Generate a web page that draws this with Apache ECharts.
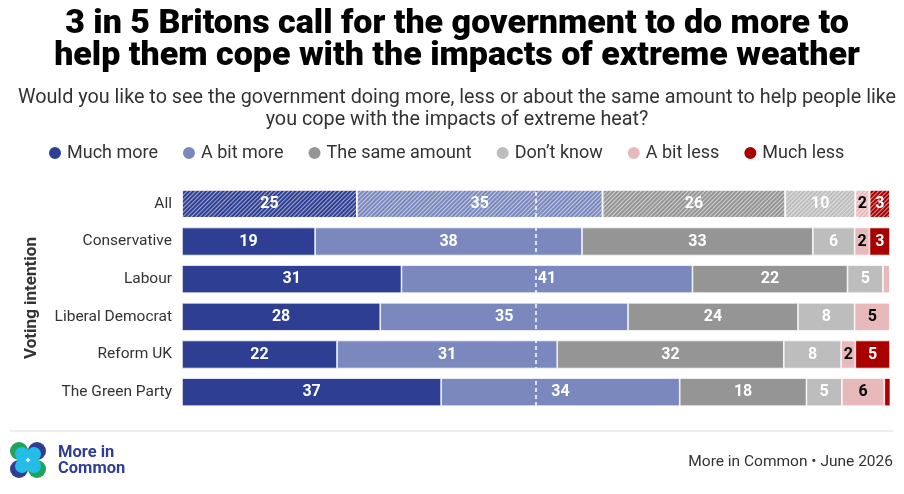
<!DOCTYPE html>
<html><head><meta charset="utf-8">
<script src="https://cdn.jsdelivr.net/npm/echarts@6/dist/echarts.min.js"></script>
<style>html,body{margin:0;padding:0;background:#fff}#c{width:904px;height:494px}</style>
</head><body><div id="c"></div>
<script>
const categories = ['All','Conservative','Labour','Liberal Democrat','Reform UK','The Green Party'];
const seriesNames = ['Much more','A bit more','The same amount','Don\u2019t know','A bit less','Much less'];
const muchMore = [24.7,18.8,31.0,28.0,21.9,36.6];
const bitMore  = [34.7,37.7,41.1,35.0,31.1,33.7];
const sameAmt  = [25.8,32.6,21.9,24.0,32.0,17.9];
const dontKnow = [9.9,5.9,5.0,8.0,8.1,5.0];
const bitLess  = [2.0,2.1,1.0,5.0,2.0,6.0];
const muchLess = [2.9,2.9,0,0,4.9,0.9];
const midLine = 50;
const colors = ['#2e3f93','#7b88bd','#959595','#bdbdbd','#e8b9bb','#a90000'];
const labelColors = ['#fff','#fff','#fff','#fff','#000','#fff'];
const values = [muchMore,bitMore,sameAmt,dontKnow,bitLess,muchLess];
const FONT = 'Roboto, "Noto Sans", sans-serif';

const hatch = {
  symbol:'rect', symbolSize:1, dashArrayX:[[1,0]], dashArrayY:[1,2],
  rotation:-Math.PI/4, color:'rgba(255,255,255,0.55)'
};

const series = values.map((arr,i)=>({
  name: seriesNames[i], type:'bar', stack:'t', barWidth:28,
  itemStyle:{color:colors[i], borderColor:'#fff', borderWidth:0.7},
  label:{show:true, position:'inside', color:labelColors[i], fontFamily:FONT,
    fontWeight:'bold', fontSize:16,
    formatter:p=>{const v=Math.round(p.value);return v>=2?String(v):'';}},
  data: arr.map((v,j)=> j===0 ? {value:v, itemStyle:{decal:hatch}} : v),
  emphasis:{disabled:true}
}));
series[5].markLine = {
  silent:true, symbol:'none', z:10, label:{show:false},
  lineStyle:{color:'#fff', type:[4,3], width:1.5},
  data:[{xAxis:midLine}]
};

const chart = echarts.init(document.getElementById('c'));
chart.setOption({
  animation:false,
  textStyle:{fontFamily:FONT},
  title:[{
    text:'3 in 5 Britons call for the government to do more to\nhelp them cope with the impacts of extreme weather',
    left:452, top:3, textAlign:'center',
    textStyle:{fontFamily:FONT, fontWeight:900, fontSize:34, lineHeight:32, color:'#000'}
  },{
    text:'Would you like to see the government doing more, less or about the same amount to help people like\nyou cope with the impacts of extreme heat?',
    left:452, top:82, textAlign:'center',
    textStyle:{fontFamily:FONT, fontWeight:'normal', fontSize:19.8, lineHeight:22, color:'#333'}
  }],
  legend:{
    data:seriesNames, top:139, left:42, icon:'circle', itemWidth:14, itemHeight:14,
    itemGap:23, textStyle:{fontSize:18, color:'#333', fontFamily:FONT}
  },
  grid:{left:182, right:14, top:185, height:226},
  xAxis:{type:'value', min:0, max:100, show:false},
  yAxis:{type:'category', data:categories, inverse:true,
    axisLine:{show:false}, axisTick:{show:false},
    axisLabel:{fontSize:15.5, color:'#333', margin:10, fontFamily:FONT},
    name:'Voting intention', nameLocation:'middle', nameRotate:90, nameGap:142,
    nameTextStyle:{fontSize:17, fontWeight:'bold', color:'#333', fontFamily:FONT}
  },
  series:series,
  graphic:[
    {type:'line', shape:{x1:10,y1:431,x2:893,y2:431}, style:{stroke:'#ddd', lineWidth:1}},
    {type:'group', left:10, top:442, children:[
      {type:'circle', shape:{cx:9,cy:9,r:9}, style:{fill:'#1ea35a'}},
      {type:'circle', shape:{cx:27,cy:9,r:9}, style:{fill:'#2e3f93'}},
      {type:'circle', shape:{cx:9,cy:27,r:9}, style:{fill:'#2e3f93'}},
      {type:'circle', shape:{cx:27,cy:27,r:9}, style:{fill:'#1ea35a'}},
      {type:'circle', shape:{cx:12,cy:12,r:7}, style:{fill:'#25bde8'}},
      {type:'circle', shape:{cx:24,cy:12,r:7}, style:{fill:'#25bde8'}},
      {type:'circle', shape:{cx:12,cy:24,r:7}, style:{fill:'#25bde8'}},
      {type:'circle', shape:{cx:24,cy:24,r:7}, style:{fill:'#25bde8'}}
    ]},
    {type:'text', left:58, top:444, style:{text:'More in\nCommon', fill:'#2e3f93', font:'bold 16.5px '+FONT, lineHeight:16}},
    {type:'text', right:11, top:454, style:{text:'More in Common \u2022 June 2026', fill:'#333', font:'15.5px '+FONT}}
  ]
});
</script></body></html>
